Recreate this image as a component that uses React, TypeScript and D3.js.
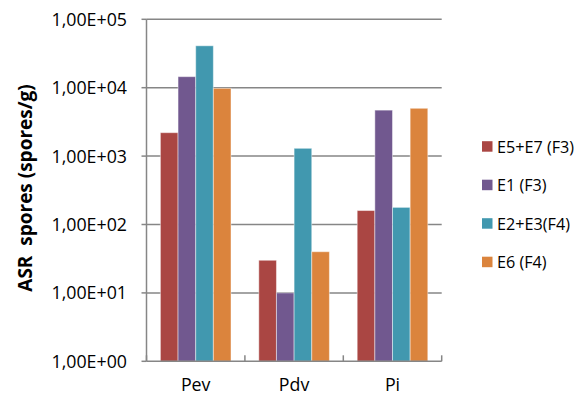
import React from "react";
import * as d3 from "d3";

const categories = ["Pev", "Pdv", "Pi"];
const seriesNames = ["E5+E7 (F3)", "E1 (F3)", "E2+E3(F4)", "E6 (F4)"];
const seriesColors = ["#AA4643", "#71588F", "#4198AF", "#DB843D"];
const s1 = [2200, 30, 160];
const s2 = [14500, 10, 4700];
const s3 = [41000, 1300, 178];
const s4 = [9800, 40, 5000];
const seriesValues = [s1, s2, s3, s4];
const tickValues = [1, 10, 100, 1000, 10000, 100000];
const tickLabels = ["1,00E+00", "1,00E+01", "1,00E+02", "1,00E+03", "1,00E+04", "1,00E+05"];

const W = 584, H = 398;
const left = 146.5, right = 441.7, top = 19.3, bottom = 361.3;
const font = "'Open Sans', sans-serif";
const gridColor = "#868686";

export default function App() {
  const y = d3.scaleLog().domain([1, 100000]).range([bottom, top]);
  const x0 = d3.scaleBand().domain(categories).range([left, right]).paddingInner(0).paddingOuter(0);
  const x1 = d3.scaleBand().domain(seriesNames.map((_, i) => String(i))).range([13.9, x0.bandwidth() - 13.9]);
  const catTicks = [left, ...categories.map((c) => (x0(c) as number) + x0.bandwidth())];

  return (
    <svg width={W} height={H} style={{ position: "absolute", left: 0, top: 0 }}>
      <rect x={0} y={0} width={W} height={H} fill="#fff" />
      {tickValues.map((v, i) => (
        <g key={v}>
          {i > 0 && <line x1={left} x2={right} y1={y(v)} y2={y(v)} stroke={gridColor} strokeWidth={1.5} />}
          <line x1={left - 5} x2={left} y1={y(v)} y2={y(v)} stroke={gridColor} strokeWidth={1.5} />
          <text x={127} y={y(v)} dy="0.36em" textAnchor="end" fontFamily={font} fontSize={17.8} fill="#000">
            {tickLabels[i]}
          </text>
        </g>
      ))}
      {categories.map((c, ci) => (
        <g key={c}>
          {seriesValues.map((vals, si) => (
            <rect
              key={si}
              x={(x0(c) as number) + (x1(String(si)) as number)}
              y={y(vals[ci])}
              width={x1.bandwidth()}
              height={bottom - y(vals[ci])}
              fill={seriesColors[si]}
              stroke="rgba(255,255,255,0.45)"
              strokeWidth={1}
            />
          ))}
          <text x={(x0(c) as number) + x0.bandwidth() / 2} y={391} textAnchor="middle" fontFamily={font} fontSize={17.8} fill="#000">
            {c}
          </text>
        </g>
      ))}
      <line x1={left} x2={left} y1={top} y2={bottom} stroke={gridColor} strokeWidth={1.5} />
      <line x1={left} x2={right} y1={bottom} y2={bottom} stroke={gridColor} strokeWidth={1.5} />
      {catTicks.map((t, i) => (
        <line key={i} x1={t} x2={t} y1={bottom} y2={bottom - 6} stroke={gridColor} strokeWidth={1.5} />
      ))}
      <text
        transform={`translate(32,188) rotate(-90)`}
        textAnchor="middle"
        fontFamily={font}
        fontWeight="bold"
        fontSize={19}
        fill="#000"
        style={{ whiteSpace: "pre" }}
      >
        {"ASR  spores (spores/g)"}
      </text>
      {seriesNames.map((n, i) => (
        <g key={n} transform={`translate(482,${146.7 + i * 38.5})`}>
          <rect x={0} y={-5.5} width={10.5} height={10.5} fill={seriesColors[i]} />
          <text x={15} y={0} dy="0.36em" fontFamily={font} fontSize={16.2} fill="#000">
            {n}
          </text>
        </g>
      ))}
    </svg>
  );
}
